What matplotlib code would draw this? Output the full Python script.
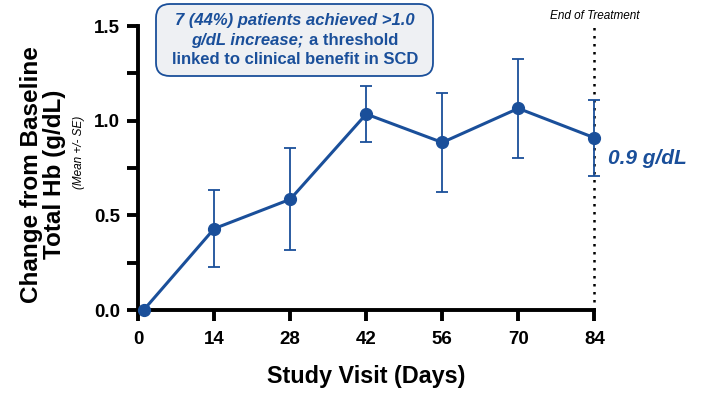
import matplotlib
matplotlib.use("Agg")
import matplotlib.pyplot as plt
from matplotlib.offsetbox import TextArea, HPacker, VPacker, AnnotationBbox, DrawingArea

# data
days = [1, 14, 28, 42, 56, 70, 84]
mean_hb = [0.0, 0.43, 0.585, 1.035, 0.885, 1.065, 0.91]
se_hb = [0.0, 0.205, 0.27, 0.15, 0.26, 0.26, 0.2]
xticks = [0, 14, 28, 42, 56, 70, 84]

plt.rcParams['font.family'] = ['Liberation Sans', 'DejaVu Sans']
blue = '#1a4f9a'

fig = plt.figure(figsize=(7.05, 3.94), dpi=100)
ax = fig.add_axes([0.196, 0.213, 0.647, 0.721])

ax.errorbar(days, mean_hb, yerr=se_hb, color=blue, lw=2.2, marker='o', ms=8.5,
            ecolor=blue, elinewidth=1.3, capsize=4.3, capthick=1.3, clip_on=False, zorder=3)

ax.set_xlim(0, 84)
ax.set_ylim(0, 1.5)
ax.set_xticks(xticks)
ax.set_yticks([0, 0.5, 1.0, 1.5])
ax.set_yticklabels(['0.0', '0.5', '1.0', '1.5'])
ax.set_yticks([0.25, 0.75, 1.25], minor=True)
for s in ['top', 'right']:
    ax.spines[s].set_visible(False)
for s in ['left', 'bottom']:
    ax.spines[s].set_linewidth(2.8)
ax.tick_params(axis='both', which='major', width=2.8, length=8, labelsize=13.5, pad=5)
ax.tick_params(axis='x', which='major', pad=7)
ax.tick_params(axis='y', which='minor', width=2.8, length=8)
for lab in ax.get_xticklabels() + ax.get_yticklabels():
    lab.set_fontweight('bold')

ax.set_xlabel('Study Visit (Days)', fontsize=16.8, fontweight='bold', labelpad=12)
fig.text(0.061, 0.558, 'Change from Baseline\nTotal Hb (g/dL)', rotation=90, fontsize=17.5,
         fontweight='bold', ha='center', va='center', linespacing=1.0)
fig.text(0.112, 0.614, '(Mean +/- SE)', rotation=90, fontsize=8.5, style='italic',
         ha='center', va='center')

# end of treatment line
ax.plot([84, 84], [0, 1.52], ls=(0, (1, 2.2)), color='black', lw=1.8, clip_on=False, zorder=2)
ax.text(84, 1.52, 'End of Treatment', fontsize=8.5, style='italic', ha='center', va='bottom')

ax.text(86.5, 0.80, '0.9 g/dL', fontsize=15, fontweight='bold', style='italic', color=blue,
        ha='left', va='center')

# annotation box with mixed styles
def ta(s, **kw):
    p = dict(color=blue, fontsize=12, fontweight='bold')
    p.update(kw)
    return TextArea(s, textprops=p)

line1 = ta('7 (44%) patients achieved >1.0', style='italic')
line2 = HPacker(children=[ta('g/dL increase;', style='italic'), ta('a threshold')], pad=0, sep=4)
line3 = ta('linked to clinical benefit in SCD')
pack = VPacker(children=[line1, line2, line3], align='center', pad=0, sep=3)
wide = HPacker(children=[DrawingArea(4, 1), pack, DrawingArea(4, 1)], align='center', pad=0, sep=0)
ab = AnnotationBbox(wide, (0.418, 0.966), xycoords='figure fraction', box_alignment=(0.5, 1.0),
                    frameon=True,
                    bboxprops=dict(boxstyle='round,pad=0.7,rounding_size=1.0',
                                   facecolor='#eef0f3', edgecolor=blue, lw=1.3))
fig.add_artist(ab)

fig.savefig('out.png', dpi=100)
